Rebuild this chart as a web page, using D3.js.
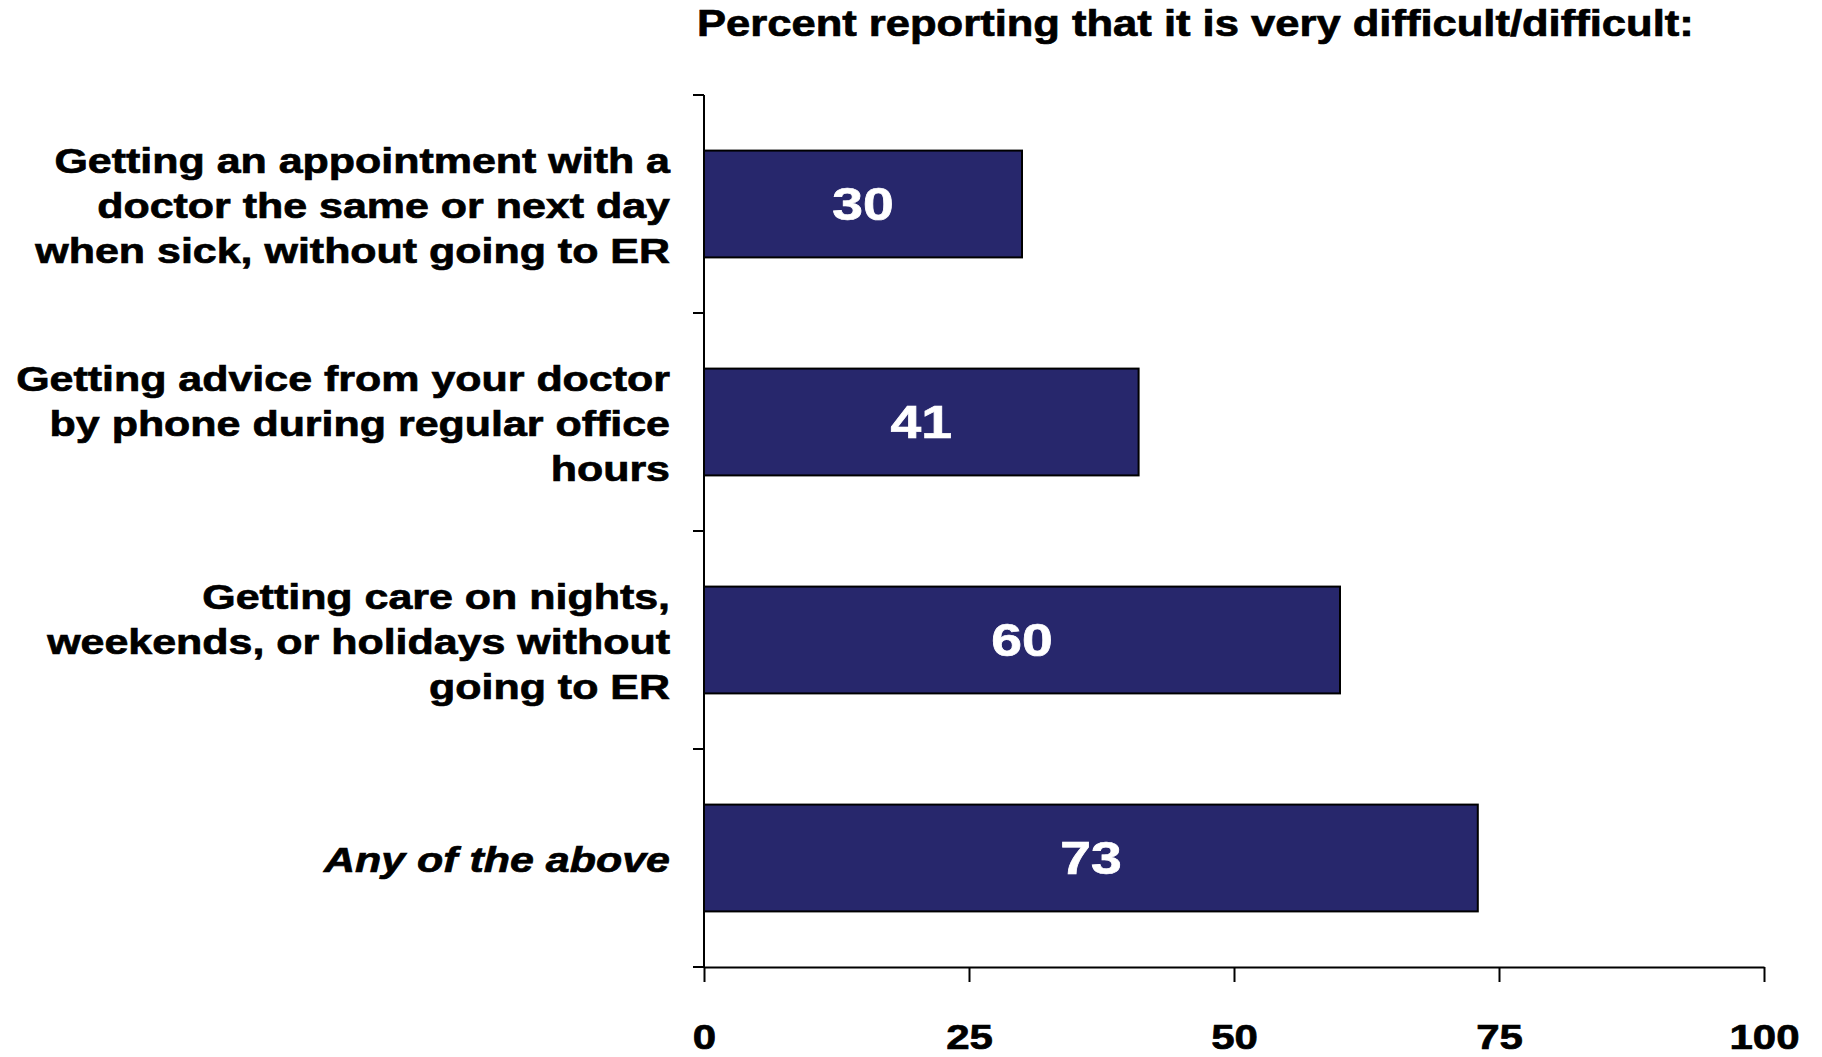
<!DOCTYPE html>
<html>
<head>
<meta charset="utf-8">
<script src="https://cdn.jsdelivr.net/npm/d3@7"></script>
<style>
  html, body { margin: 0; padding: 0; background: #fff; }
  svg { display: block; }
  text { font-family: "Liberation Sans", Arial, sans-serif; font-weight: bold; }
</style>
</head>
<body>
<div id="chart"></div>
<script>
// chart data
const categories = [
  ["Getting an appointment with a", "doctor the same or next day", "when sick, without going to ER"],
  ["Getting advice from your doctor", "by phone during regular office", "hours"],
  ["Getting care on nights,", "weekends, or holidays without", "going to ER"],
  ["Any of the above"]
];
const values = [30, 41, 60, 73];
const xTicks = [0, 25, 50, 75, 100];
const title = "Percent reporting that it is very difficult/difficult:";

const width = 1822, height = 1057;
const margin = { top: 95, left: 704, right: 58, bottom: 90 };
const stretch = 1.2; // text in the original is drawn a bit wide

const svg = d3.select('#chart')
  .append('svg')
  .attr('width', width)
  .attr('height', height);

const x = d3.scaleLinear()
  .domain([0, 100])
  .range([margin.left, width - margin.right]);

const y = d3.scaleBand()
  .domain(d3.range(categories.length))
  .range([margin.top, height - margin.bottom])
  .paddingInner(0.51)
  .paddingOuter(0.255);

const step = y.step();

// draws stretched, slightly heavier text at a point
function wideText(sel, px, py, str, size, anchor, colour) {
  return sel.append('text')
    .attr('transform', `translate(${px},${py}) scale(${stretch},1)`)
    .attr('text-anchor', anchor)
    .attr('fill', colour)
    .attr('stroke', colour)
    .attr('stroke-width', 0.7)
    .style('font-size', size + 'px')
    .text(str);
}

// title
wideText(svg, 697, 36, title, 36.3, 'start', '#000');

// bars
const bars = svg.append('g');
bars.selectAll('rect')
  .data(values)
  .enter()
  .append('rect')
  .attr('x', x(0))
  .attr('y', (d, i) => y(i))
  .attr('width', d => x(d) - x(0))
  .attr('height', y.bandwidth())
  .attr('fill', '#27276c')
  .attr('stroke', '#000')
  .attr('stroke-width', 2);

// value labels inside bars
values.forEach((v, i) => {
  wideText(svg, (x(0) + x(v)) / 2, y(i) + y.bandwidth() / 2 + 16, v, 46, 'middle', '#fff');
});

// y axis line and category ticks
const yTop = margin.top, yBottom = height - margin.bottom;
svg.append('line')
  .attr('x1', x(0)).attr('x2', x(0))
  .attr('y1', yTop).attr('y2', yBottom)
  .attr('stroke', '#000').attr('stroke-width', 2);

svg.selectAll('.cat-tick')
  .data(d3.range(categories.length + 1))
  .enter()
  .append('line')
  .attr('class', 'cat-tick')
  .attr('x1', x(0) - 11).attr('x2', x(0))
  .attr('y1', i => yTop + i * step).attr('y2', i => yTop + i * step)
  .attr('stroke', '#000').attr('stroke-width', 2);

// x axis
const xAxis = svg.append('g')
  .attr('transform', `translate(0,${yBottom})`)
  .call(d3.axisBottom(x).tickValues(xTicks).tickSize(15).tickSizeOuter(0).tickPadding(0));

xAxis.select('.domain').attr('stroke', '#000').attr('stroke-width', 2);
xAxis.selectAll('.tick line').attr('stroke', '#000').attr('stroke-width', 2);
xAxis.selectAll('.tick text').remove();
xAxis.selectAll('.tick').each(function(d) {
  wideText(d3.select(this), 0, 82, d, 35, 'middle', '#000');
});

// category labels, right aligned
const lineH = 45;
categories.forEach((lines, i) => {
  const cy = y(i) + y.bandwidth() / 2;
  const first = cy + 14 - (lines.length - 1) * lineH / 2;
  lines.forEach((ln, j) => {
    const t = wideText(svg, 670, first + j * lineH, ln, 35.8, 'end', '#000');
    if (lines.length === 1) t.style('font-style', 'italic');
  });
});
</script>
</body>
</html>
